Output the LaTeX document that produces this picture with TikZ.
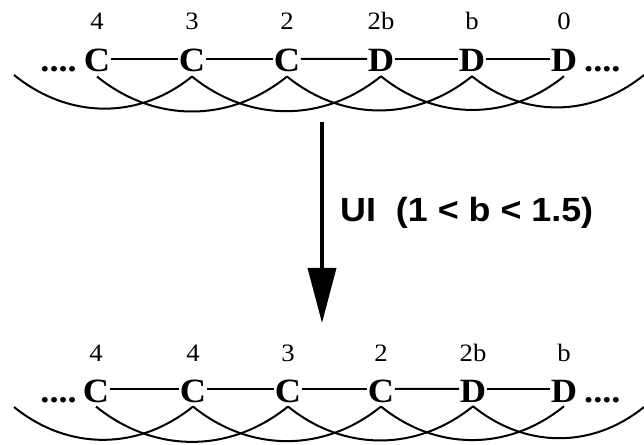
\documentclass[tikz,border=0pt]{standalone}
\usepackage{fontspec}
\setmainfont{Liberation Serif}[FakeStretch=1.07]
\newfontfamily\lsans{Liberation Sans}[FakeStretch=1.07]
\usetikzlibrary{arrows.meta}
\begin{document}
\begin{tikzpicture}[x=1pt,y=1pt,
  letter/.style={font=\fontsize{34}{40}\selectfont\bfseries, inner xsep=0.5pt, inner ysep=4pt, anchor=base},
  lab/.style={font=\fontsize{25}{30}\selectfont, inner sep=0pt, anchor=base},
  dots/.style={font=\fontsize{34}{40}\selectfont\bfseries, inner sep=0pt},
  bond/.style={line width=2pt},
  loop/.style={line width=2pt, out=-39, in=-141},
]
\useasboundingbox (0,0) rectangle (644,444);

% ---------- top row ----------
\foreach \x/\t/\l [count=\i] in {97/C/4,192/C/3,287/C/2,381/D/2b,472/D/b,564/D/0} {
  \node[letter] (t\i) at (\x,372) {\t};
  \node[lab] (tl\i) at (\x,414) {\l};
}
\node[dots, anchor=base east] (tdl) at (77,372) {....};
\node[dots, anchor=base west] (tdr) at (584,372) {....};
\foreach \i/\j in {1/2,2/3,3/4,4/5,5/6}
  \draw[bond] ([yshift=2pt]t\i.east) -- ([yshift=2pt]t\j.west);
\coordinate (ts) at (14,369);
\coordinate (te) at (644,369);
\draw[loop] (ts) to (t2.south);
\foreach \i/\j in {1/3,2/4,3/5,4/6}
  \draw[loop] (t\i.south) to (t\j.south);
\draw[loop] (t5.south) to (te);

% ---------- arrow ----------
\coordinate (atop) at (322,322);
\coordinate (abot) at (322,121);
\draw[line width=3.5pt, -{Triangle[length=55pt,width=28pt]}] (atop) -- (abot);
\node[font=\lsans\fontsize{33.5}{40}\selectfont\bfseries, anchor=west, inner sep=0pt] (ui) at (340,231) {UI~~(1 < b < 1.5)};

% ---------- bottom row ----------
\foreach \x/\t/\l [count=\i] in {96/C/4,193/C/4,288/C/3,381/C/2,473/D/2b,564/D/b} {
  \node[letter] (b\i) at (\x,42) {\t};
  \node[lab] (bl\i) at (\x,82) {\l};
}
\node[dots, anchor=base east] (bdl) at (77,42) {....};
\node[dots, anchor=base west] (bdr) at (584,42) {....};
\foreach \i/\j in {1/2,2/3,3/4,4/5,5/6}
  \draw[bond] ([yshift=2pt]b\i.east) -- ([yshift=2pt]b\j.west);
\coordinate (bs) at (14,37);
\coordinate (be) at (644,37);
\draw[loop] (bs) to (b2.south);
\foreach \i/\j in {1/3,2/4,3/5,4/6}
  \draw[loop] (b\i.south) to (b\j.south);
\draw[loop] (b5.south) to (be);
\end{tikzpicture}
\end{document}
